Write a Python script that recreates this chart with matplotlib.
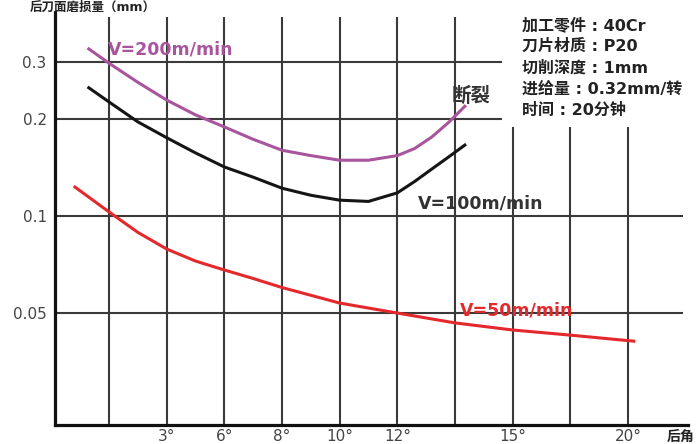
import matplotlib
matplotlib.use('Agg')
import matplotlib.pyplot as plt

plt.rcParams['font.family'] = ['DejaVu Sans', 'Noto Sans CJK SC']

# rake angle categories (grid columns 1..10), only some are labelled
tick_pos = [2, 3, 4, 5, 6, 8, 10]
tick_labels = ['3°', '6°', '8°', '10°', '12°', '15°', '20°']
wear_ticks = [0.05, 0.1, 0.2, 0.3]

# curves (x in grid columns, y = wear in mm)
v200_x = [0.65, 1.0, 1.5, 2.0, 2.5, 3.0, 3.5, 4.0, 4.5, 5.0, 5.5, 6.0, 6.3, 6.6, 6.9, 7.17]
v200_y = [0.330, 0.298, 0.260, 0.229, 0.206, 0.189, 0.173, 0.160, 0.154, 0.149, 0.149,
          0.154, 0.162, 0.176, 0.196, 0.219]
v100_x = [0.65, 1.0, 1.5, 2.0, 2.5, 3.0, 3.5, 4.0, 4.5, 5.0, 5.5, 6.0, 6.3, 6.6, 6.9, 7.17]
v100_y = [0.250, 0.226, 0.196, 0.175, 0.157, 0.142, 0.132, 0.122, 0.116, 0.112, 0.111,
          0.118, 0.128, 0.140, 0.153, 0.166]
v50_x = [0.41, 1.0, 1.5, 2.0, 2.5, 3.0, 3.5, 4.0, 5.0, 6.0, 7.0, 8.0, 9.0, 10.1]
v50_y = [0.123, 0.103, 0.0890, 0.079, 0.0725, 0.068, 0.064, 0.060, 0.0537, 0.050,
         0.0466, 0.0443, 0.0427, 0.0409]

info_lines = ['加工零件 : 40Cr', '刀片材质 : P20', '切削深度 : 1mm',
              '进给量 : 0.32mm/转', '时间 : 20分钟']

grid_c = '#3a3a3a'
purple = '#a9559d'
red = '#e3292b'

fig = plt.figure(figsize=(6.99, 4.44), dpi=100)
ax = fig.add_axes([55 / 699, 19 / 444, 633 / 699, 413 / 444])
ax.set_yscale('log')
ax.set_xlim(0.064, 11.04)
ax.set_ylim(0.02247, 0.4296)

# grid
ax.vlines(range(1, 8), 0.02247, 0.415, color=grid_c, lw=1.5, zorder=1)
ax.vlines(range(8, 11), 0.02247, 0.189, color=grid_c, lw=1.5, zorder=1)
ax.hlines([0.3, 0.2], 0.064, 7.82, color=grid_c, lw=1.5, zorder=1)
ax.hlines([0.1, 0.05], 0.064, 10.95, color=grid_c, lw=1.5, zorder=1)

ax.plot(v200_x, v200_y, color=purple, lw=2.2, zorder=3)
ax.plot(v100_x, v100_y, color='#151515', lw=2.2, zorder=3)
ax.plot(v50_x, v50_y, color=red, lw=2.2, zorder=3)

ax.text(0.98, 0.328, 'V=200m/min', color=purple, fontsize=12.5, fontweight='bold',
        va='center', zorder=4)
ax.text(6.36, 0.1097, 'V=100m/min', color='#333333', fontsize=12.5, fontweight='bold',
        va='center', zorder=4)
ax.text(7.09, 0.0511, 'V=50m/min', color=red, fontsize=12.5, fontweight='bold',
        va='center', zorder=4)
ax.text(6.95, 0.236, '断裂', color='#333333', fontsize=14, fontweight='bold',
        va='center', zorder=4)

for sp in ['top', 'right']:
    ax.spines[sp].set_visible(False)
for sp in ['left', 'bottom']:
    ax.spines[sp].set_linewidth(2.3)
    ax.spines[sp].set_color('#111111')

ax.set_xticks(tick_pos)
ax.set_xticklabels(tick_labels)
ax.set_yticks(wear_ticks)
ax.set_yticklabels(['0.05', '0.1', '0.2', '0.3'])
ax.minorticks_off()
ax.tick_params(length=0, labelsize=11, labelcolor='#444444')
ax.tick_params(axis='x', pad=3)
ax.tick_params(axis='y', pad=6)

for i, line in enumerate(info_lines):
    fig.text(522 / 699, 1 - (25 + 21.2 * i) / 444, line, fontsize=11.5,
             fontweight='bold', color='#222222', va='center', ha='left')
fig.text(667 / 699, 1 - 437 / 444, '后角', fontsize=10, fontweight='bold',
         color='#222222', va='center', ha='left')
fig.text(30 / 699, 1 - 1 / 444, '后刀面磨损量（mm）', fontsize=9, fontweight='bold',
         color='#222222', va='top', ha='left')

fig.savefig('out.png', dpi=100)
